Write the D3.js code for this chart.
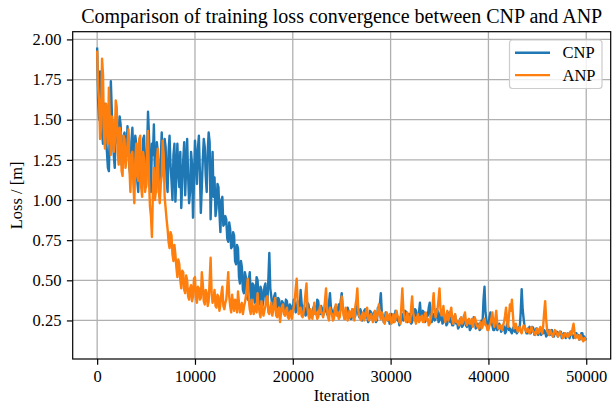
<!DOCTYPE html>
<html><head><meta charset="utf-8">
<script src="https://cdn.jsdelivr.net/npm/d3@7"></script>
<style>body{margin:0;background:#fff}svg{display:block}text{font-family:"Liberation Serif","Times New Roman",serif;fill:#000}</style>
</head><body><svg id="c" width="612" height="406"></svg>
<script>
const STEP = 100;
const xTicks = [0, 10000, 20000, 30000, 40000, 50000];
const yTicks = [0.25, 0.50, 0.75, 1.00, 1.25, 1.50, 1.75, 2.00];
const seriesNames = ["CNP", "ANP"];
const cnp = [
1.95,1.62,1.50,1.80,1.72,1.42,1.35,1.58,1.60,1.38,
1.30,1.20,1.18,1.45,1.74,1.55,1.40,1.28,1.20,1.50,
1.55,1.36,1.33,1.52,1.47,1.22,1.25,1.40,1.42,1.30,
1.28,1.46,1.38,1.20,1.15,1.36,1.45,1.30,1.22,1.40,
1.35,1.12,1.05,1.28,1.30,1.20,1.12,1.38,1.40,1.18,
1.08,1.30,1.55,1.40,1.20,1.05,1.35,1.28,1.47,1.18,
1.10,1.36,1.30,1.05,1.02,1.25,1.42,1.20,1.15,1.38,
1.33,1.12,1.05,1.30,1.40,1.22,1.12,1.00,1.28,1.35,
0.99,1.15,1.35,1.18,1.08,1.30,0.95,1.12,1.25,1.36,
1.03,1.20,1.38,1.15,0.98,1.05,1.30,1.22,0.89,1.12,
1.37,1.25,1.10,1.32,1.40,1.18,0.92,1.08,1.25,1.38,
1.33,1.15,1.05,1.30,1.42,1.36,0.88,1.12,1.30,1.02,
1.14,0.90,0.95,1.10,1.08,0.92,0.80,1.00,1.02,0.84,
0.85,0.90,0.88,0.76,0.74,0.86,0.82,0.70,0.71,0.80,
0.78,0.62,0.60,0.72,0.70,0.52,0.48,0.62,0.58,0.44,
0.42,0.55,0.52,0.40,0.38,0.50,0.55,0.42,0.36,0.48,
0.47,0.36,0.40,0.52,0.50,0.38,0.35,0.46,0.44,0.34,
0.38,0.46,0.48,0.37,0.36,0.50,0.67,0.45,0.40,0.34,
0.35,0.40,0.42,0.34,0.33,0.39,0.38,0.32,0.31,0.37,
0.36,0.30,0.32,0.38,0.37,0.31,0.30,0.35,0.34,0.30,
0.31,0.38,0.36,0.30,0.32,0.37,0.35,0.31,0.44,0.36,
0.30,0.34,0.33,0.28,0.29,0.36,0.35,0.30,0.31,0.27,
0.28,0.33,0.34,0.29,0.30,0.38,0.37,0.30,0.29,0.34,
0.32,0.28,0.30,0.35,0.33,0.29,0.28,0.36,0.42,0.33,
0.31,0.27,0.29,0.33,0.34,0.30,0.28,0.35,0.32,0.37,
0.42,0.33,0.30,0.26,0.27,0.31,0.33,0.30,0.29,0.26,
0.26,0.32,0.31,0.27,0.28,0.34,0.35,0.29,0.27,0.32,
0.30,0.25,0.26,0.31,0.32,0.27,0.28,0.24,0.25,0.31,
0.30,0.26,0.27,0.30,0.29,0.24,0.25,0.33,0.31,0.35,
0.42,0.30,0.28,0.24,0.25,0.30,0.29,0.25,0.26,0.23,
0.24,0.29,0.28,0.24,0.25,0.31,0.30,0.25,0.26,0.22,
0.24,0.28,0.29,0.25,0.26,0.31,0.30,0.24,0.25,0.29,
0.28,0.23,0.24,0.29,0.27,0.32,0.31,0.26,0.25,0.30,
0.36,0.28,0.27,0.31,0.30,0.24,0.25,0.29,0.28,0.33,
0.36,0.27,0.24,0.28,0.29,0.25,0.26,0.32,0.31,0.24,
0.25,0.30,0.28,0.23,0.24,0.28,0.27,0.22,0.23,0.29,
0.30,0.24,0.25,0.22,0.22,0.27,0.28,0.23,0.24,0.20,
0.21,0.26,0.25,0.21,0.22,0.28,0.27,0.22,0.21,0.25,
0.24,0.19,0.20,0.24,0.23,0.27,0.26,0.20,0.21,0.23,
0.22,0.19,0.20,0.25,0.24,0.38,0.46,0.30,0.25,0.22,
0.21,0.27,0.30,0.24,0.22,0.19,0.19,0.22,0.23,0.19,
0.20,0.23,0.22,0.18,0.19,0.22,0.21,0.17,0.18,0.23,
0.22,0.19,0.20,0.18,0.17,0.20,0.21,0.18,0.19,0.17,
0.18,0.21,0.20,0.30,0.445,0.32,0.26,0.21,0.19,0.17,
0.17,0.20,0.21,0.17,0.18,0.21,0.20,0.16,0.17,0.20,
0.19,0.16,0.18,0.19,0.16,0.18,0.17,0.19,0.18,0.15,
0.16,0.18,0.19,0.16,0.17,0.19,0.15,0.15,0.18,0.17,
0.18,0.15,0.16,0.18,0.18,0.14,0.15,0.17,0.17,0.14,
0.16,0.17,0.15,0.14,0.18,0.16,0.16,0.14,0.15,0.17,
0.17,0.15,0.16,0.13,0.14,0.17,0.17,0.14,0.15,0.13,
0.14
];
const anp = [
1.93,1.70,1.62,1.38,1.45,1.88,1.78,1.40,1.32,1.60,
1.55,1.35,1.70,1.48,1.28,1.52,1.48,1.30,1.36,1.62,
1.58,1.30,1.22,1.45,1.42,1.18,1.15,1.40,1.38,1.20,
1.25,1.35,1.44,1.20,1.05,1.28,1.30,1.10,0.98,1.25,
1.35,1.15,1.12,1.38,1.40,1.08,1.02,1.30,1.25,1.05,
1.10,1.30,1.43,1.12,0.96,0.90,0.77,1.05,1.20,1.00,
1.05,1.25,1.32,1.08,0.98,1.10,1.15,1.37,1.28,1.02,
0.95,0.88,0.82,0.74,0.70,0.80,0.78,0.66,0.62,0.72,
0.66,0.58,0.52,0.63,0.60,0.50,0.45,0.56,0.55,0.44,
0.42,0.53,0.50,0.40,0.38,0.45,0.47,0.37,0.40,0.51,
0.52,0.39,0.36,0.46,0.45,0.38,0.39,0.55,0.48,0.37,
0.35,0.44,0.42,0.34,0.37,0.50,0.64,0.42,0.36,0.40,
0.44,0.34,0.33,0.41,0.40,0.31,0.35,0.42,0.46,0.34,
0.32,0.36,0.38,0.46,0.55,0.40,0.34,0.30,0.41,0.35,
0.31,0.38,0.37,0.30,0.43,0.36,0.30,0.34,0.36,0.29,
0.33,0.36,0.40,0.45,0.51,0.38,0.32,0.29,0.38,0.34,
0.29,0.33,0.35,0.30,0.42,0.34,0.30,0.27,0.37,0.33,
0.28,0.31,0.34,0.39,0.40,0.30,0.29,0.33,0.36,0.28,
0.31,0.35,0.39,0.28,0.27,0.32,0.33,0.24,0.30,0.34,
0.35,0.29,0.28,0.31,0.33,0.27,0.26,0.30,0.31,0.26,
0.30,0.33,0.38,0.45,0.51,0.36,0.29,0.31,0.33,0.28,
0.27,0.30,0.35,0.42,0.48,0.33,0.28,0.26,0.32,0.30,
0.26,0.31,0.36,0.29,0.30,0.26,0.27,0.31,0.34,0.30,
0.29,0.27,0.31,0.38,0.45,0.32,0.27,0.25,0.33,0.30,
0.29,0.25,0.26,0.31,0.35,0.28,0.30,0.26,0.27,0.32,
0.40,0.33,0.28,0.26,0.33,0.30,0.25,0.28,0.31,0.27,
0.29,0.32,0.27,0.25,0.34,0.38,0.45,0.31,0.28,0.26,
0.25,0.29,0.30,0.25,0.27,0.31,0.33,0.26,0.25,0.28,
0.29,0.26,0.24,0.28,0.31,0.25,0.27,0.31,0.35,0.28,
0.26,0.30,0.28,0.24,0.23,0.27,0.30,0.25,0.26,0.29,
0.25,0.23,0.27,0.29,0.24,0.26,0.31,0.28,0.27,0.24,
0.23,0.34,0.45,0.32,0.28,0.25,0.24,0.30,0.27,0.24,
0.24,0.33,0.40,0.30,0.27,0.25,0.23,0.27,0.29,0.24,
0.25,0.27,0.28,0.24,0.24,0.29,0.30,0.25,0.26,0.22,
0.23,0.26,0.29,0.35,0.42,0.31,0.27,0.30,0.32,0.38,
0.45,0.32,0.28,0.30,0.34,0.27,0.24,0.28,0.31,0.25,
0.27,0.30,0.33,0.26,0.23,0.27,0.29,0.24,0.25,0.23,
0.22,0.25,0.27,0.23,0.24,0.27,0.30,0.24,0.22,0.25,
0.26,0.23,0.23,0.26,0.21,0.24,0.27,0.25,0.22,0.21,
0.20,0.23,0.24,0.20,0.21,0.25,0.26,0.22,0.22,0.19,
0.19,0.22,0.23,0.26,0.30,0.24,0.21,0.26,0.31,0.23,
0.20,0.21,0.22,0.20,0.19,0.22,0.24,0.28,0.33,0.25,
0.21,0.28,0.35,0.31,0.38,0.29,0.20,0.21,0.23,0.20,
0.18,0.20,0.21,0.18,0.17,0.20,0.22,0.21,0.19,0.18,
0.20,0.19,0.17,0.18,0.21,0.19,0.18,0.17,0.16,0.19,
0.20,0.17,0.18,0.21,0.19,0.17,0.22,0.30,0.37,0.26,
0.19,0.17,0.16,0.19,0.18,0.16,0.15,0.17,0.19,0.18,
0.17,0.15,0.16,0.18,0.17,0.16,0.14,0.15,0.17,0.16,
0.15,0.17,0.15,0.16,0.18,0.16,0.20,0.23,0.18,0.14,
0.15,0.16,0.14,0.13,0.16,0.15,0.13,0.12,0.14,0.13,
0.13
];
const colors = ["#1f77b4", "#ff7f0e"];

const svg = d3.select("#c");
const L = 72.7, R = 610.7, T = 31.7, B = 359;
const x = d3.scaleLinear().domain([-2500, 52500]).range([L, R]);
const y = d3.scaleLinear().domain([0.01, 2.048]).range([B, T]);
const FS = "16.5px";

// grid
const g = svg.append("g");
g.selectAll(".vg").data(xTicks).enter().append("line")
  .attr("x1", d => x(d)).attr("x2", d => x(d)).attr("y1", T).attr("y2", B)
  .attr("stroke", "#b0b0b0").attr("stroke-width", 1.3);
g.selectAll(".hg").data(yTicks).enter().append("line")
  .attr("y1", d => y(d)).attr("y2", d => y(d)).attr("x1", L).attr("x2", R)
  .attr("stroke", "#b0b0b0").attr("stroke-width", 1.3);

// lines
const line = d3.line().x((d, i) => x(i * STEP)).y(d => y(d));
[cnp, anp].forEach((s, k) => {
  svg.append("path").datum(s).attr("d", line).attr("fill", "none")
    .attr("stroke", colors[k]).attr("stroke-width", 2.4).attr("stroke-linejoin", "round");
});

// axes
const xa = svg.append("g").attr("transform", `translate(0,${B})`)
  .call(d3.axisBottom(x).tickValues(xTicks).tickFormat(d3.format("d")).tickSize(5.8).tickPadding(5.5));
const ya = svg.append("g").attr("transform", `translate(${L},0)`)
  .call(d3.axisLeft(y).tickValues(yTicks).tickFormat(d3.format(".2f")).tickSize(5.8).tickPadding(5.5));
[xa, ya].forEach(a => {
  a.select(".domain").remove();
  a.selectAll("line").attr("stroke", "#000").attr("stroke-width", 1.2);
  a.selectAll("text").style("font-family", '"Liberation Serif", serif').style("font-size", FS).attr("fill", "#000");
});
svg.append("rect").attr("x", L).attr("y", T).attr("width", R - L).attr("height", B - T)
  .attr("fill", "none").attr("stroke", "#000").attr("stroke-width", 1.2);

// labels
svg.append("text").attr("x", (L + R) / 2).attr("y", 23).attr("text-anchor", "middle")
  .style("font-size", "20px").text("Comparison of training loss convergence between CNP and ANP");
svg.append("text").attr("x", (L + R) / 2).attr("y", 401).attr("text-anchor", "middle")
  .style("font-size", FS).text("Iteration");
svg.append("text").attr("transform", `translate(22,${(T + B) / 2}) rotate(-90)`).attr("text-anchor", "middle")
  .style("font-size", FS).text("Loss / [m]");

// legend
const lg = svg.append("g");
lg.append("rect").attr("x", 509.5).attr("y", 40).attr("width", 92.5).attr("height", 48.5).attr("rx", 3)
  .attr("fill", "#fff").attr("fill-opacity", 0.8).attr("stroke", "#cccccc").attr("stroke-width", 1.2);
seriesNames.forEach((n, k) => {
  const yy = 52.7 + k * 22.4;
  lg.append("line").attr("x1", 515).attr("x2", 550).attr("y1", yy).attr("y2", yy)
    .attr("stroke", colors[k]).attr("stroke-width", 2.4);
  lg.append("text").attr("x", 562.5).attr("y", yy + 5.5).style("font-size", FS).text(n);
});
</script>
</body></html>
